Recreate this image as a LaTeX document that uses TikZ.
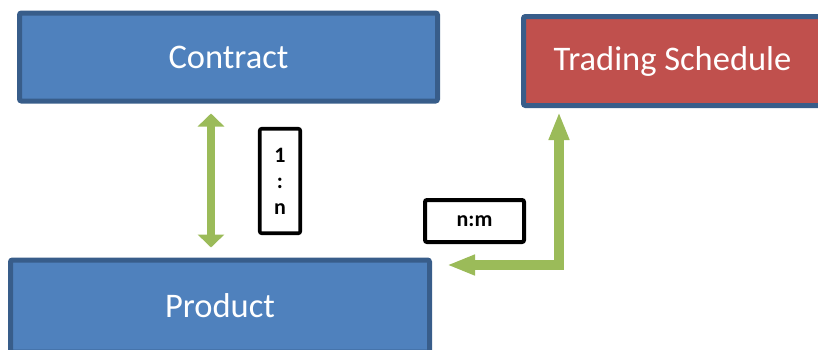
\documentclass[tikz,border=0pt]{standalone}
\usepackage{fontspec}
\setmainfont{Carlito}
\usetikzlibrary{arrows.meta}
\definecolor{boxblue}{HTML}{4F81BD}
\definecolor{boxred}{HTML}{C0504D}
\definecolor{edgeblue}{HTML}{385D8A}
\definecolor{arrgreen}{HTML}{9BBB59}
\tikzset{
  entity/.style={draw=edgeblue, line width=5pt, rounded corners=2pt, inner sep=0pt,
    text=white, font=\fontsize{34.5}{40}\selectfont},
  relbox/.style={draw=black, fill=white, line width=3.6pt, rounded corners=2pt, inner sep=0pt,
    font=\fontsize{22}{27}\selectfont\bfseries, align=center},
  dblarrow/.style={draw=arrgreen, line width=8pt,
    {Triangle[length=13pt,width=26pt]}-{Triangle[length=13pt,width=26pt]}},
  larrow/.style={draw=arrgreen, line width=10.5pt,
    {Triangle[length=28pt,width=19pt]}-{Triangle[length=28pt,width=19pt]}}
}
\begin{document}
\begin{tikzpicture}[x=1pt,y=-1pt]
\useasboundingbox (0,0) rectangle (818,349);
\clip (0,0) rectangle (818,349);
\node[entity, fill=boxblue, minimum width=418pt, minimum height=88pt] (contract) at (228.5,57) {Contract};
\node[entity, fill=boxred, minimum width=298pt, minimum height=89pt] (trading) at (672.5,61) {Trading Schedule};
\node[entity, fill=boxblue, minimum width=419pt, minimum height=92pt] (product) at (220,306) {Product};
\node[relbox, minimum width=40.5pt, minimum height=104.5pt] (onen) at (280,181) {1\\[-1pt]:\\[-1pt]n};
\node[relbox, line width=4pt, minimum width=99pt, minimum height=42pt] (nm) at (474.5,221) {n:m};
\coordinate (ax) at (211,0);
\coordinate (corner) at (559,265);
\draw[dblarrow, shorten <=10pt, shorten >=10pt] (contract.south -| ax) -- (product.north -| ax);
\draw[larrow, line join=miter, shorten <=15pt, shorten >=4pt] (product.east |- corner) -- (corner) -- (trading.south -| corner);
\end{tikzpicture}
\end{document}
